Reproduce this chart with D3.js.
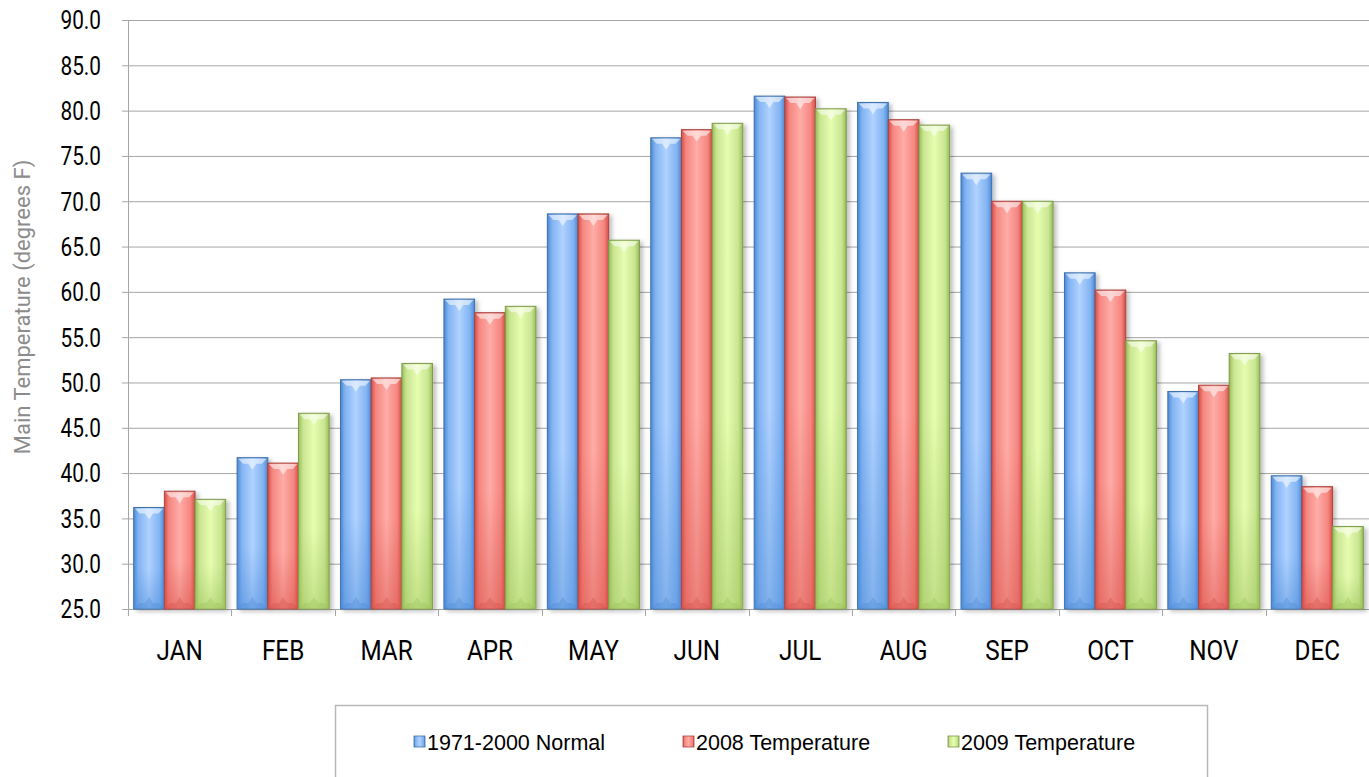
<!DOCTYPE html>
<html><head><meta charset="utf-8">
<script src="https://cdn.jsdelivr.net/npm/d3@7"></script>
<style>
html,body{margin:0;padding:0;background:#fff;}
svg{display:block;}
</style></head>
<body>
<svg id="chart" width="1369" height="777"></svg>
<script>
const months = ["JAN","FEB","MAR","APR","MAY","JUN","JUL","AUG","SEP","OCT","NOV","DEC"];
const seriesNames = ["1971-2000 Normal","2008 Temperature","2009 Temperature"];
const normal = [36.2,41.7,50.3,59.2,68.6,77.0,81.6,80.9,73.1,62.1,49.0,39.7];
const temp2008 = [38.0,41.1,50.5,57.7,68.6,77.9,81.5,79.0,70.0,60.2,49.7,38.5];
const temp2009 = [37.1,46.6,52.1,58.4,65.7,78.6,80.2,78.4,70.0,54.6,53.2,34.1];
const yTicks = [25,30,35,40,45,50,55,60,65,70,75,80,85,90];

const series = [normal, temp2008, temp2009];
const colors = [
  {light:"#b0d2ff", mid:"#82b3f2", dark:"#4a8ad6", stroke:"#3f6fa8"},
  {light:"#ffaca7", mid:"#f58680", dark:"#d64e47", stroke:"#a84440"},
  {light:"#e6fdb0", mid:"#c9e592", dark:"#98bf55", stroke:"#7f9a4c"}
];

const svg = d3.select("#chart");
const m = {left:128, right:1369, top:20, bottom:609};
const x = d3.scaleBand().domain(months).range([m.left, m.right]).paddingInner(0.11).paddingOuter(0.055);
const xs = d3.scaleBand().domain([0,1,2]).range([0, x.bandwidth()]);
const y = d3.scaleLinear().domain([25,90]).range([m.bottom, m.top]);

const defs = svg.append("defs");
colors.forEach((c,i)=>{
  const g = defs.append("linearGradient").attr("id","g"+i).attr("x1","0").attr("x2","1").attr("y1","0").attr("y2","0");
  g.append("stop").attr("offset","0").attr("stop-color",c.dark);
  g.append("stop").attr("offset","0.15").attr("stop-color",c.mid);
  g.append("stop").attr("offset","0.5").attr("stop-color",c.light);
  g.append("stop").attr("offset","0.85").attr("stop-color",c.mid);
  g.append("stop").attr("offset","1").attr("stop-color",c.dark);
  const v = defs.append("linearGradient").attr("id","v"+i).attr("x1","0").attr("x2","0").attr("y1","0").attr("y2","1");
  v.append("stop").attr("offset","0").attr("stop-color","#fff").attr("stop-opacity",0.0);
  v.append("stop").attr("offset","0.6").attr("stop-color",c.dark).attr("stop-opacity",0.0);
  v.append("stop").attr("offset","1").attr("stop-color",c.dark).attr("stop-opacity",0.45);
});
const sh = defs.append("filter").attr("id","shadow").attr("x","-20%").attr("y","-5%").attr("width","150%").attr("height","115%");
sh.append("feDropShadow").attr("dx",3).attr("dy",2).attr("stdDeviation",2).attr("flood-color","#000").attr("flood-opacity",0.25);

// gridlines
svg.append("g").selectAll("line").data(yTicks).join("line")
  .attr("x1", m.left-6).attr("x2", m.right)
  .attr("y1", d=>y(d)+0.5).attr("y2", d=>y(d)+0.5)
  .attr("stroke", "#a6a6a6").attr("stroke-width",1);

// y axis line
svg.append("line").attr("x1",m.left+0.5).attr("x2",m.left+0.5).attr("y1",m.top).attr("y2",m.bottom+7).attr("stroke","#a6a6a6");
// x ticks
const bounds = months.map((d,i)=> m.left + i*(m.right-m.left)/12).concat([m.right]);
svg.append("g").selectAll("line").data(bounds).join("line")
  .attr("x1",d=>Math.round(d)+0.5).attr("x2",d=>Math.round(d)+0.5)
  .attr("y1",m.bottom).attr("y2",m.bottom+7).attr("stroke","#a6a6a6");

const condFont = "Roboto, 'Liberation Sans', sans-serif";
// y tick labels
svg.append("g").selectAll("text").data(yTicks).join("text")
  .attr("transform", d=>`translate(101,${y(d)}) scale(0.8,1)`)
  .attr("dy","0.36em")
  .attr("text-anchor","end")
  .style("font-family",condFont)
  .style("font-size","26px").attr("fill","#000")
  .text(d=>d.toFixed(1));

// x labels
svg.append("g").selectAll("text").data(months).join("text")
  .attr("transform", d=>`translate(${x(d)+x.bandwidth()/2},660) scale(0.9,1)`)
  .attr("text-anchor","middle")
  .style("font-family",condFont)
  .style("font-size","27px").attr("fill","#000")
  .text(d=>d);

// y title
svg.append("text").attr("transform","translate(30,307) rotate(-90)")
  .attr("text-anchor","middle")
  .style("font-family",condFont)
  .style("font-size","22px").attr("fill","#8c8c8c")
  .text("Main Temperature (degrees F)");

// bars
series.forEach((vals,si)=>{
  const c = colors[si];
  const g = svg.append("g");
  const bars = g.selectAll("g").data(vals.map((v,i)=>({v, m:months[i]}))).join("g");
  bars.append("rect")
    .attr("x", d=>x(d.m)+xs(si)).attr("y", d=>y(d.v))
    .attr("width", xs.bandwidth()).attr("height", d=>y(25)-y(d.v))
    .attr("fill","url(#g"+si+")").attr("stroke",c.stroke).attr("stroke-width",1)
    .attr("filter","url(#shadow)");
  bars.append("rect")
    .attr("x", d=>x(d.m)+xs(si)).attr("y", d=>y(d.v))
    .attr("width", xs.bandwidth()).attr("height", d=>y(25)-y(d.v))
    .attr("fill","url(#v"+si+")");
  bars.append("path")
    .attr("d", d=>{
      const x0 = x(d.m)+xs(si), w = xs.bandwidth(), y0 = y(d.v);
      return `M${x0+1},${y0+1} L${x0+w-1},${y0+1} L${x0+w-6},${y0+6} L${x0+w/2+4},${y0+6} L${x0+w/2},${y0+12} L${x0+w/2-4},${y0+6} L${x0+6},${y0+6} Z`;
    })
    .attr("fill","#fff").attr("opacity",0.55);
  bars.append("path")
    .attr("d", d=>{
      const x0 = x(d.m)+xs(si), w = xs.bandwidth(), y0 = y(25);
      return `M${x0+1},${y0-1} L${x0+w-1},${y0-1} L${x0+w-6},${y0-6} L${x0+w/2+4},${y0-6} L${x0+w/2},${y0-12} L${x0+w/2-4},${y0-6} L${x0+6},${y0-6} Z`;
    })
    .attr("fill",c.dark).attr("opacity",0.35);
});

// legend
svg.append("rect").attr("x",335.5).attr("y",705.5).attr("width",872).attr("height",80)
  .attr("fill","#fff").attr("stroke","#b8b8b8").attr("stroke-width",1.5);
const legX = [414, 683, 948];
const lg = svg.append("g").selectAll("g").data(seriesNames).join("g")
  .attr("transform",(d,i)=>`translate(${legX[i]},742)`);
lg.append("rect").attr("x",0).attr("y",-6).attr("width",11).attr("height",11)
  .attr("fill",(d,i)=>"url(#g"+i+")").attr("stroke",(d,i)=>colors[i].stroke).attr("stroke-width",0.8);
lg.append("text").attr("x",13).attr("y",0).attr("dy","0.36em")
  .style("font-family","'Liberation Sans',Arial,sans-serif").style("font-size","21.5px").attr("fill","#000")
  .text(d=>d);
</script>
</body></html>
